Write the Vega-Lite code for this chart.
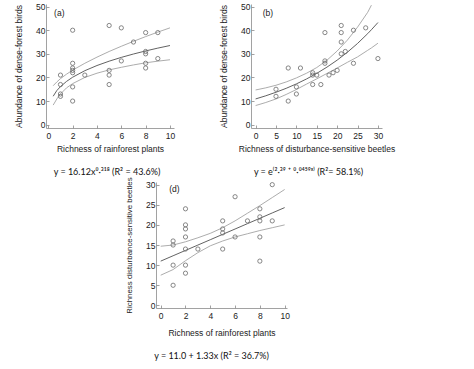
{
  "$schema": "https://vega.github.io/schema/vega-lite/v6.json",
  "padding": {"left": 14, "top": 2, "right": 2, "bottom": 2},
  "background": "white",
  "datasets": {
    "ptsA": [
      {"x": 1, "value": 21}, {"x": 1, "value": 17}, {"x": 1, "value": 13}, {"x": 1, "value": 12},
      {"x": 2, "value": 40}, {"x": 2, "value": 26}, {"x": 2, "value": 24}, {"x": 2, "value": 23}, {"x": 2, "value": 22}, {"x": 2, "value": 16}, {"x": 2, "value": 10},
      {"x": 3, "value": 21},
      {"x": 5, "value": 42}, {"x": 5, "value": 23}, {"x": 5, "value": 21}, {"x": 5, "value": 17},
      {"x": 6, "value": 41}, {"x": 6, "value": 27},
      {"x": 7, "value": 35},
      {"x": 8, "value": 39}, {"x": 8, "value": 31}, {"x": 8, "value": 30}, {"x": 8, "value": 26}, {"x": 8, "value": 24},
      {"x": 9, "value": 39}, {"x": 9, "value": 28}
    ],
    "fitA": [
      {"x": 0.4, "fit": 12.05, "lo": 8.3, "hi": 16.5},
      {"x": 0.7, "fit": 14.46, "lo": 10.9, "hi": 18.1},
      {"x": 1, "fit": 16.12, "lo": 13.0, "hi": 19.5},
      {"x": 1.5, "fit": 18.34, "lo": 15.6, "hi": 21.4},
      {"x": 2, "fit": 20.1, "lo": 17.4, "hi": 23.1},
      {"x": 3, "fit": 22.86, "lo": 20.0, "hi": 26.0},
      {"x": 4, "fit": 25.05, "lo": 21.8, "hi": 28.6},
      {"x": 5, "fit": 26.89, "lo": 23.2, "hi": 31.0},
      {"x": 6, "fit": 28.5, "lo": 24.3, "hi": 33.2},
      {"x": 7, "fit": 29.93, "lo": 25.3, "hi": 35.3},
      {"x": 8, "fit": 31.23, "lo": 26.2, "hi": 37.3},
      {"x": 9, "fit": 32.42, "lo": 26.9, "hi": 39.2},
      {"x": 10, "fit": 33.52, "lo": 27.5, "hi": 41.0}
    ],
    "ptsB": [
      {"x": 5, "value": 15}, {"x": 5, "value": 12}, {"x": 8, "value": 10}, {"x": 8, "value": 24},
      {"x": 10, "value": 16}, {"x": 10, "value": 13}, {"x": 11, "value": 24},
      {"x": 14, "value": 22}, {"x": 14, "value": 21}, {"x": 14, "value": 17}, {"x": 15, "value": 21}, {"x": 16, "value": 17},
      {"x": 17, "value": 39}, {"x": 17, "value": 27}, {"x": 17, "value": 26}, {"x": 18, "value": 21}, {"x": 19, "value": 22}, {"x": 20, "value": 23},
      {"x": 21, "value": 42}, {"x": 21, "value": 39}, {"x": 21, "value": 35}, {"x": 21, "value": 30}, {"x": 22, "value": 31},
      {"x": 24, "value": 40}, {"x": 24, "value": 26}, {"x": 27, "value": 41}, {"x": 30, "value": 28}
    ],
    "fitB": [
      {"x": 0, "fit": 10.91, "lo": 8.1, "hi": 14.7},
      {"x": 2.5, "fit": 12.24, "lo": 9.4, "hi": 15.6},
      {"x": 5, "fit": 13.73, "lo": 10.9, "hi": 16.7},
      {"x": 7.5, "fit": 15.4, "lo": 12.8, "hi": 18.1},
      {"x": 10, "fit": 17.27, "lo": 14.9, "hi": 19.8},
      {"x": 12.5, "fit": 19.37, "lo": 17.2, "hi": 21.8},
      {"x": 15, "fit": 21.73, "lo": 19.4, "hi": 24.2},
      {"x": 17.5, "fit": 24.37, "lo": 21.7, "hi": 27.3},
      {"x": 20, "fit": 27.33, "lo": 24.0, "hi": 31.2},
      {"x": 22.5, "fit": 30.66, "lo": 26.4, "hi": 35.8},
      {"x": 25, "fit": 34.39, "lo": 28.7, "hi": 41.3},
      {"x": 27.5, "fit": 38.57, "lo": 31.5, "hi": 47.6},
      {"x": 28.4, "fit": 40.2, "lo": 32.5, "hi": 50.6},
      {"x": 30, "fit": 43.25, "lo": 34.5}
    ],
    "ptsD": [
      {"x": 1, "value": 16}, {"x": 1, "value": 15}, {"x": 1, "value": 10}, {"x": 1, "value": 5},
      {"x": 2, "value": 24}, {"x": 2, "value": 20}, {"x": 2, "value": 19}, {"x": 2, "value": 17}, {"x": 2, "value": 14}, {"x": 2, "value": 10}, {"x": 2, "value": 8},
      {"x": 3, "value": 14},
      {"x": 5, "value": 21}, {"x": 5, "value": 19}, {"x": 5, "value": 18}, {"x": 5, "value": 14},
      {"x": 6, "value": 27}, {"x": 6, "value": 17},
      {"x": 7, "value": 21},
      {"x": 8, "value": 24}, {"x": 8, "value": 22}, {"x": 8, "value": 21}, {"x": 8, "value": 17}, {"x": 8, "value": 11},
      {"x": 9, "value": 30}, {"x": 9, "value": 21}
    ],
    "fitD": [
      {"x": 0, "fit": 11.0, "lo": 7.5, "hi": 14.7},
      {"x": 1, "fit": 12.33, "lo": 8.9, "hi": 15.0},
      {"x": 2, "fit": 13.66, "lo": 11.1, "hi": 15.8},
      {"x": 3, "fit": 14.99, "lo": 13.1, "hi": 16.8},
      {"x": 4, "fit": 16.32, "lo": 14.8, "hi": 17.9},
      {"x": 5, "fit": 17.65, "lo": 16.0, "hi": 19.3},
      {"x": 6, "fit": 18.98, "lo": 17.0, "hi": 21.0},
      {"x": 7, "fit": 20.31, "lo": 17.8, "hi": 22.9},
      {"x": 8, "fit": 21.64, "lo": 18.6, "hi": 24.8},
      {"x": 9, "fit": 22.97, "lo": 19.3, "hi": 26.8},
      {"x": 10, "fit": 24.3, "lo": 20.0, "hi": 28.8}
    ]
  },
  "vconcat": [
    {
      "hconcat": [
        {
          "width": 128, "height": 124,
          "title": {"text": "y = 16.12x⁰·³¹⁸ (R² = 43.6%)", "orient": "bottom", "frame": "group", "anchor": "middle", "dx": -3, "offset": 15},
          "encoding": {
            "x": {"field": "x", "type": "quantitative", "scale": {"domain": [-0.19, 10.33], "nice": false, "zero": false}, "axis": {"values": [0, 2, 4, 6, 8, 10], "labelOverlap": false, "title": "Richness of rainforest plants"}},
            "y": {"field": "value", "type": "quantitative", "scale": {"domain": [-1.4, 51.1], "nice": false, "zero": false}, "axis": {"values": [0, 10, 20, 30, 40, 50], "labelOverlap": false, "title": "Abundance of dense-forest birds"}}
          },
          "layer": [
            {"data": {"name": "fitA"}, "transform": [{"fold": ["hi", "lo", "fit"], "as": ["k", "value"]}],
             "mark": {"type": "line", "strokeWidth": 0.9, "clip": true},
             "encoding": {"color": {"field": "k", "type": "nominal", "scale": {"domain": ["fit", "hi", "lo"], "range": ["#505050", "#a3a3a3", "#a3a3a3"]}, "legend": null}}},
            {"data": {"name": "ptsA"}, "mark": {"type": "point", "shape": "circle", "filled": false, "size": 18, "color": "#6a6a6a", "strokeWidth": 0.8, "opacity": 1}},
            {"data": {"values": [{"x": 0.9, "value": 47.5, "t": "(a)"}]}, "mark": {"type": "text", "font": "Liberation Sans", "fontSize": 8.5, "color": "#222", "align": "center", "baseline": "middle"},
             "encoding": {"text": {"field": "t"}}}
          ]
        },
        {
          "width": 131, "height": 124,
          "title": {"text": "y = e⁽²·³⁹ ⁺ ⁰·⁰⁴⁵⁹ˣ⁾ (R²= 58.1%)", "orient": "bottom", "frame": "group", "anchor": "middle", "dx": -8, "offset": 15},
          "encoding": {
            "x": {"field": "x", "type": "quantitative", "scale": {"domain": [-1.13, 31], "nice": false, "zero": false}, "axis": {"values": [0, 5, 10, 15, 20, 25, 30], "labelOverlap": false, "title": "Richness of disturbance-sensitive beetles"}},
            "y": {"field": "value", "type": "quantitative", "scale": {"domain": [-1.4, 51.1], "nice": false, "zero": false}, "axis": {"values": [0, 10, 20, 30, 40, 50], "labelOverlap": false, "title": "Abundance of dense-forest birds"}}
          },
          "layer": [
            {"data": {"name": "fitB"}, "transform": [{"fold": ["hi", "lo", "fit"], "as": ["k", "value"]}],
             "mark": {"type": "line", "strokeWidth": 0.9, "clip": true},
             "encoding": {"color": {"field": "k", "type": "nominal", "scale": {"domain": ["fit", "hi", "lo"], "range": ["#505050", "#a3a3a3", "#a3a3a3"]}, "legend": null}}},
            {"data": {"name": "ptsB"}, "mark": {"type": "point", "shape": "circle", "filled": false, "size": 18, "color": "#6a6a6a", "strokeWidth": 0.8, "opacity": 1}},
            {"data": {"values": [{"x": 3, "value": 47.5, "t": "(b)"}]}, "mark": {"type": "text", "font": "Liberation Sans", "fontSize": 8.5, "color": "#222", "align": "center", "baseline": "middle"},
             "encoding": {"text": {"field": "t"}}}
          ]
        }
      ],
      "spacing": 44,
      "align": "none"
    },
    {
      "hconcat": [
        {"width": 63, "height": 10, "data": {"values": [{}]}, "mark": {"type": "point", "opacity": 0}},
        {
          "width": 131, "height": 126,
          "title": {"text": "y = 11.0 + 1.33x (R² = 36.7%)", "orient": "bottom", "frame": "group", "anchor": "middle", "dx": -10, "offset": 15},
          "encoding": {
            "x": {"field": "x", "type": "quantitative", "scale": {"domain": [-0.38, 10.19], "nice": false, "zero": false}, "axis": {"values": [0, 2, 4, 6, 8, 10], "labelOverlap": false, "titlePadding": 9, "title": "Richness of rainforest plants"}},
            "y": {"field": "value", "type": "quantitative", "scale": {"domain": [-0.65, 30.66], "nice": false, "zero": false}, "axis": {"values": [0, 5, 10, 15, 20, 25, 30], "labelOverlap": false, "titleFontSize": 7.9, "title": "Richness disturbance-sensitive beetles"}}
          },
          "layer": [
            {"data": {"name": "fitD"}, "transform": [{"fold": ["hi", "lo", "fit"], "as": ["k", "value"]}],
             "mark": {"type": "line", "strokeWidth": 0.9, "clip": true},
             "encoding": {"color": {"field": "k", "type": "nominal", "scale": {"domain": ["fit", "hi", "lo"], "range": ["#505050", "#a3a3a3", "#a3a3a3"]}, "legend": null}}},
            {"data": {"name": "ptsD"}, "mark": {"type": "point", "shape": "circle", "filled": false, "size": 18, "color": "#6a6a6a", "strokeWidth": 0.8, "opacity": 1}},
            {"data": {"values": [{"x": 1.1, "value": 28.9, "t": "(d)"}]}, "mark": {"type": "text", "font": "Liberation Sans", "fontSize": 8.5, "color": "#222", "align": "center", "baseline": "middle"},
             "encoding": {"text": {"field": "t"}}}
          ]
        }
      ],
      "spacing": 16,
      "align": "none"
    }
  ],
  "spacing": -1,
  "resolve": {"scale": {"color": "independent"}},
  "config": {
    "view": {"stroke": null},
    "axis": {
      "grid": false,
      "domainColor": "#8a8a8a",
      "domainWidth": 0.8,
      "tickColor": "#8a8a8a",
      "tickSize": -3,
      "tickWidth": 0.8,
      "labelFont": "Liberation Sans",
      "labelFontSize": 8.5,
      "labelColor": "#222",
      "labelFlush": false,
      "labelOverlap": false,
      "labelSeparation": 0,
      "titleFont": "Liberation Sans",
      "titleFontSize": 8.5,
      "titleFontWeight": "normal",
      "titleColor": "#222"
    },
    "axisX": {"labelPadding": 6, "titlePadding": 5},
    "axisY": {"labelPadding": 4, "titlePadding": 12},
    "title": {"font": "Lato", "fontSize": 9, "fontWeight": "normal", "color": "#111"}
  }
}
